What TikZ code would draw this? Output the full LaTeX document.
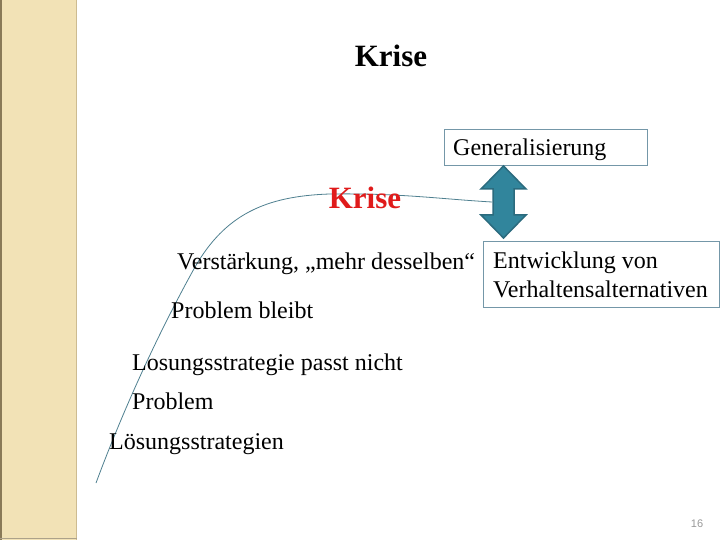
\documentclass[tikz,border=0pt]{standalone}
\usepackage{fontspec}
\setmainfont{Liberation Serif}
\newfontfamily\numfont{Liberation Sans}
\definecolor{barfill}{HTML}{F2E2B6}
\definecolor{baredge}{HTML}{8A7A58}
\definecolor{barright}{HTML}{CDBB90}
\definecolor{curvecol}{HTML}{4F8090}
\definecolor{boxedge}{HTML}{7497A8}
\definecolor{arrowfill}{HTML}{31859C}
\definecolor{arrowedge}{HTML}{2B6B7E}
\definecolor{krisered}{HTML}{E01B1B}
\tikzset{
  body/.style={anchor=base west, inner sep=0pt, font=\fontsize{24}{28.8}\selectfont},
  titletext/.style={anchor=base, inner sep=0pt, font=\fontsize{31}{36}\selectfont\bfseries},
  framebox/.style={draw=boxedge, line width=0.8pt},
}
\begin{document}
\begin{tikzpicture}[x=1pt,y=-1pt]
\useasboundingbox (0,0) rectangle (720,540);
\fill[white] (0,0) rectangle (720,540);
% side bar
\fill[barfill] (0,0) rectangle (77,540);
\draw[baredge, line width=2pt] (1,0) -- (1,540);
\draw[barright, line width=1.5pt] (76.5,0) -- (76.5,540);
\draw[baredge!70, line width=1pt] (0,538.5) -- (77,538.5);
% title
\node[titletext] (title) at (391,67) {Krise};
% curve
\coordinate (curvestart) at (96,483);
\coordinate (curveend) at (492,202);
\draw[curvecol, line width=0.8pt] (curvestart)
  .. controls (125,405) and (160,330) .. (195,267)
  .. controls (225,215) and (265,196) .. (330,194)
  .. controls (400,193) and (440,199) .. (curveend);
% boxes
\draw[framebox] (444,129) rectangle (647,165);
\node[body] (gen) at (453,156) {Generalisierung};
\draw[framebox] (483,241) rectangle (719,307);
\node[body] (ent1) at (493,268) {Entwicklung von};
\node[body] (ent2) at (493,297) {Verhaltensalternativen};
% double arrow
\draw[arrowedge, fill=arrowfill, line width=1.5pt, line join=miter]
  (503.5,166) -- (526,189) -- (514,189) -- (514,215) -- (526,215) -- (503.5,238)
  -- (481,215) -- (493,215) -- (493,189) -- (481,189) -- cycle;
% red Krise
\node[titletext, text=krisered] (krise) at (365,208) {Krise};
% stages
\node[body] (verst) at (177,269) {Verstärkung, „mehr desselben“};
\node[body] (bleibt) at (171,318) {Problem bleibt};
\node[body] (passt) at (132,370) {Losungsstrategie passt nicht};
\node[body] (problem) at (132,409) {Problem};
\node[body] (loes) at (109,449) {Lösungsstrategien};
% page number
\node[anchor=base, inner sep=0pt, text=black!40, font=\numfont\fontsize{11}{13}\selectfont] (page) at (697,527) {16};
\end{tikzpicture}
\end{document}
